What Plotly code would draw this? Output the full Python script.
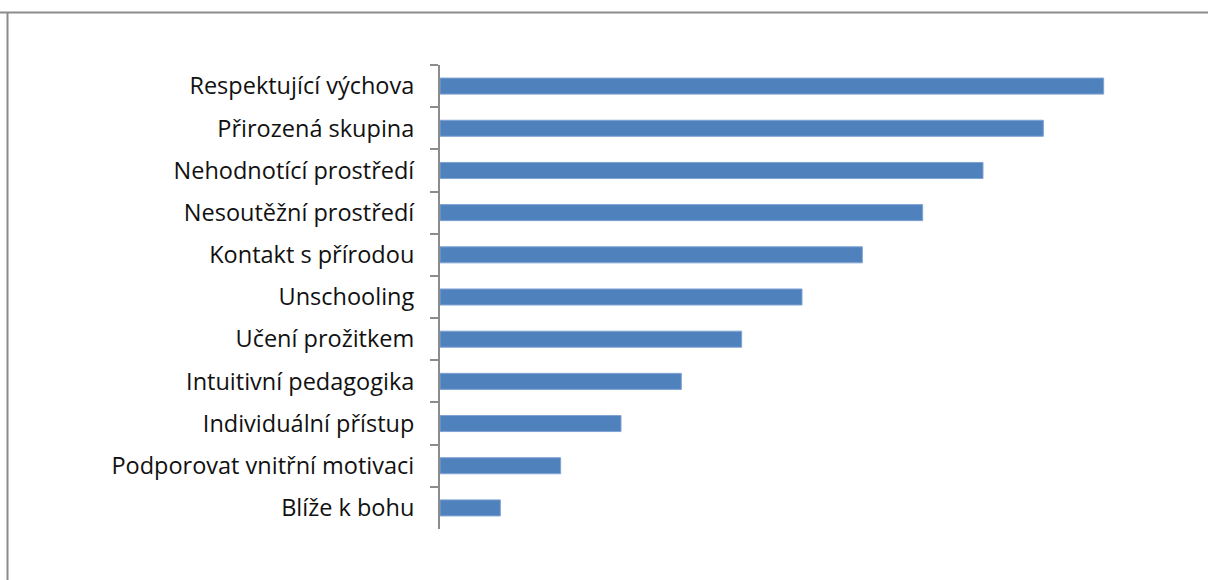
import plotly.graph_objects as go

categories = [
    "Respektující výchova",
    "Přirozená skupina",
    "Nehodnotící prostředí",
    "Nesoutěžní prostředí",
    "Kontakt s přírodou",
    "Unschooling",
    "Učení prožitkem",
    "Intuitivní pedagogika",
    "Individuální přístup",
    "Podporovat vnitřní motivaci",
    "Blíže k bohu",
]
values = [11, 10, 9, 8, 7, 6, 5, 4, 3, 2, 1]

PLOT_W = 724
PLOT_H = 464

fig = go.Figure(
    go.Bar(
        x=values,
        y=categories,
        orientation="h",
        marker=dict(color="#4F81BD", line=dict(color="#7FA3D3", width=1)),
        hoverinfo="x+y",
    )
)

fig.update_layout(
    width=1208,
    height=580,
    margin=dict(l=440, r=1208 - 440 - PLOT_W, t=65, b=51, autoexpand=False),
    paper_bgcolor="white",
    plot_bgcolor="white",
    bargap=0.62,
    showlegend=False,
    font=dict(family="Open Sans, Noto Sans, sans-serif", size=18, color="#111111"),
    shapes=[
        # frame around the chart area (top and left edges)
        dict(type="line", xref="paper", yref="paper", x0=-440 / PLOT_W, x1=1.2,
             y0=(580 - 51 - 12.5) / PLOT_H, y1=(580 - 51 - 12.5) / PLOT_H,
             line=dict(color="#8c8c8c", width=2)),
        dict(type="line", xref="paper", yref="paper", x0=-432.5 / PLOT_W, x1=-432.5 / PLOT_W,
             y0=(580 - 51 - 12.5) / PLOT_H, y1=-0.2,
             line=dict(color="#8c8c8c", width=2)),
    ],
)

fig.update_xaxes(range=[0, 12], visible=False, showgrid=False, zeroline=False)
fig.update_yaxes(
    autorange="reversed",
    showline=True,
    linecolor="#8c8c8c",
    linewidth=2,
    ticks="outside",
    tickson="boundaries",
    ticklen=8,
    tickcolor="#8c8c8c",
    tickwidth=2,
    ticklabelstandoff=19,
    tickfont=dict(family="Open Sans, Noto Sans, sans-serif", size=23.5, color="#111111"),
    showgrid=False,
    zeroline=False,
)

fig.write_html("out.html")
